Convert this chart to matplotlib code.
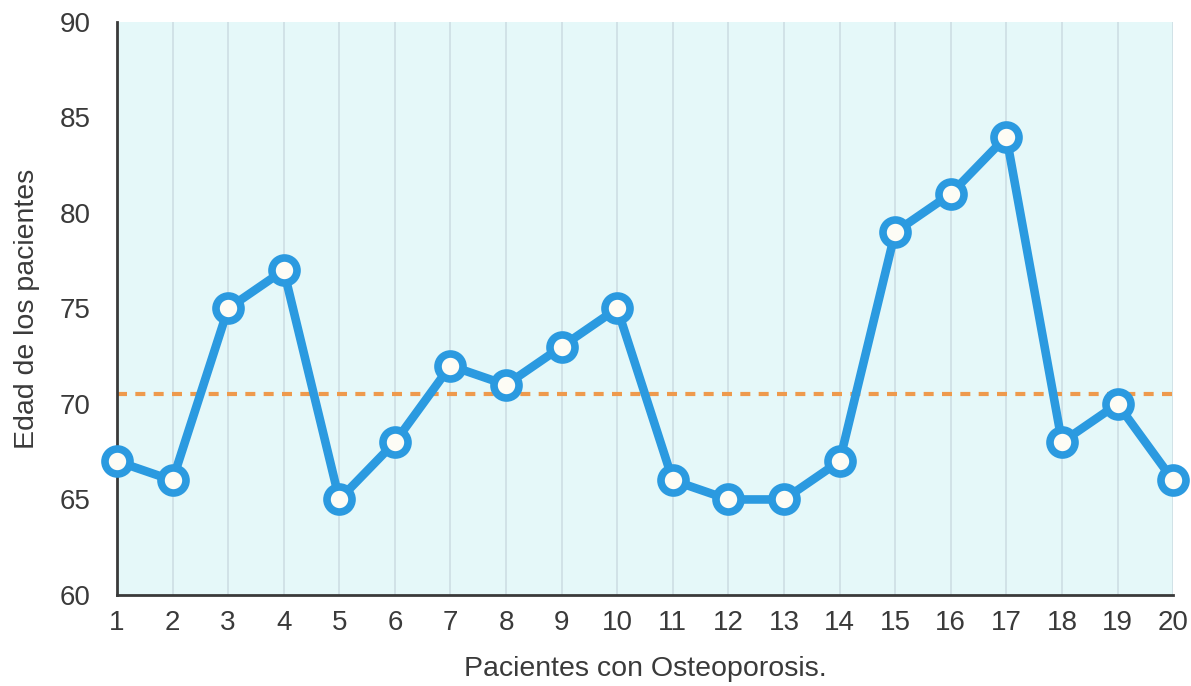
import matplotlib
matplotlib.use("Agg")
import matplotlib.pyplot as plt

plt.rcParams['font.family'] = ['Liberation Sans', 'DejaVu Sans']

# Patients (x) and their ages (y)
pacientes = list(range(1, 21))
edades = [67, 66, 75, 77, 65, 68, 72, 71, 73, 75,
          66, 65, 65, 67, 79, 81, 84, 68, 70, 66]
edad_referencia = 70.5
y_ticks = [60, 65, 70, 75, 80, 85, 90]

fig = plt.figure(figsize=(11.91, 6.86), dpi=100)
ax = fig.add_axes([0.0982, 0.1327, 0.8868, 0.8353])
ax.set_facecolor('#e5f8f9')

ax.set_xlim(1, 20)
ax.set_ylim(60, 90)
ax.set_xticks(pacientes)
ax.set_yticks(y_ticks)
ax.grid(axis='x', color='#cfe0e6', linewidth=1.3)
ax.set_axisbelow(True)

ax.axhline(edad_referencia, color='#ee9a4d', linestyle=(0, (2.4, 2.0)),
           linewidth=3, zorder=2)
ax.plot(pacientes, edades, color='#2b9ae0', linewidth=6.2,
        marker='o', markersize=18, markerfacecolor='#fdfcf5',
        markeredgecolor='#2b9ae0', markeredgewidth=5.5, zorder=3,
        clip_on=False)

for side in ('top', 'right'):
    ax.spines[side].set_visible(False)
for side in ('left', 'bottom'):
    ax.spines[side].set_color('#3a3a3a')
    ax.spines[side].set_linewidth(2)

ax.tick_params(length=0, labelsize=20, colors='#3a3a3a')
ax.tick_params(axis='x', pad=11)
ax.tick_params(axis='y', pad=19)

ax.set_xlabel('Pacientes con Osteoporosis.', fontsize=20.5, color='#3a3a3a',
              labelpad=14)
ax.set_ylabel('Edad de los pacientes', fontsize=20.5, color='#3a3a3a',
              labelpad=14)

fig.savefig('out.png', dpi=100, facecolor='white')
